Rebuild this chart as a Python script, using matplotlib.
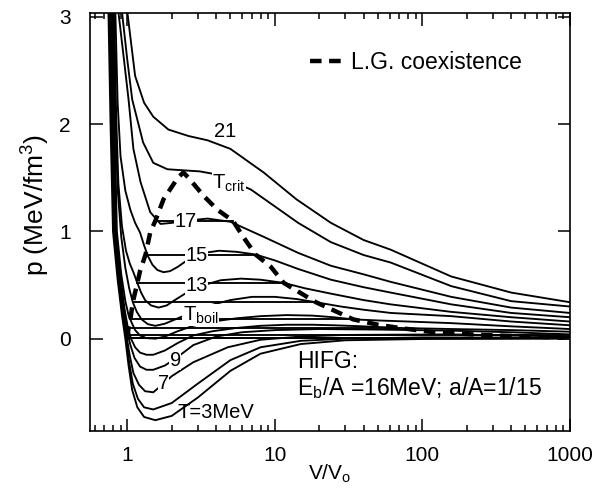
import matplotlib
matplotlib.use("Agg")
import matplotlib.pyplot as plt
from matplotlib.ticker import FixedLocator, FixedFormatter, NullFormatter

plt.rcParams['font.family'] = ['Liberation Sans', 'DejaVu Sans']
plt.rcParams['mathtext.fontset'] = 'custom'
plt.rcParams['mathtext.rm'] = 'Liberation Sans'
plt.rcParams['mathtext.it'] = 'Liberation Sans'

# isotherms: V/V0 and p (MeV/fm^3)
v_t21 = [1.0, 1.13, 1.3, 1.5, 1.9, 2.6, 3.5, 5.0, 8.4, 14, 24, 40, 61, 157, 400, 1000]
p_t21 = [3.05, 2.45, 2.2, 2.07, 1.95, 1.89, 1.85, 1.77, 1.55, 1.3, 1.08, 0.92, 0.83, 0.58, 0.43, 0.34]

v_tcrit = [0.92, 1.0, 1.08, 1.28, 1.5, 1.87, 2.4, 3.1, 4.1, 6.9, 14.4, 24, 40, 61, 157, 400, 1000]
p_tcrit = [3.05, 2.6, 2.23, 1.83, 1.64, 1.58, 1.57, 1.56, 1.53, 1.39, 1.08, 0.9, 0.78, 0.71, 0.49, 0.35, 0.30]

v_t17 = [0.87, 0.95, 1.02, 1.1, 1.23, 1.43, 1.68, 2.0, 2.5, 3.5, 5.0, 8.4, 14.4, 24, 40, 61, 157, 400, 1000]
p_t17 = [3.05, 2.6, 2.23, 1.77, 1.46, 1.18, 1.07, 1.08, 1.1, 1.12, 1.09, 0.95, 0.8, 0.68, 0.6, 0.53, 0.39, 0.29, 0.24]

v_t15 = [0.83, 0.86, 0.9, 0.97, 1.05, 1.13, 1.22, 1.3, 1.38, 1.48, 1.6, 1.76, 1.95, 2.2, 2.6, 3.3, 4.2, 5.5, 7.4, 10, 14.4, 24, 40, 61, 157, 400, 1000]
p_t15 = [3.05, 2.2, 1.7, 1.38, 1.2, 1.08, 0.99, 0.87, 0.77, 0.69, 0.64, 0.62, 0.63, 0.67, 0.74, 0.8, 0.82, 0.81, 0.785, 0.73, 0.65, 0.55, 0.48, 0.43, 0.32, 0.24, 0.2]

v_t13 = [0.815, 0.84, 0.87, 0.92, 0.98, 1.04, 1.1, 1.17, 1.24, 1.32, 1.45, 1.63, 1.85, 2.1, 2.6, 3.3, 4.3, 5.9, 8, 11.5, 16, 24, 40, 61, 157, 400, 1000]
p_t13 = [3.05, 2.1, 1.45, 1.05, 0.82, 0.7, 0.62, 0.52, 0.43, 0.36, 0.31, 0.29, 0.31, 0.36, 0.44, 0.5, 0.545, 0.56, 0.55, 0.52, 0.47, 0.42, 0.36, 0.32, 0.25, 0.2, 0.16]

v_t12 = [0.805, 0.83, 0.86, 0.91, 0.97, 1.03, 1.09, 1.16, 1.25, 1.38, 1.55, 1.8, 2.2, 2.8, 3.6, 5, 7, 10, 14, 19, 28, 40, 61, 157, 400, 1000]
p_t12 = [3.05, 2.1, 1.4, 0.95, 0.66, 0.47, 0.34, 0.25, 0.18, 0.135, 0.12, 0.14, 0.19, 0.25, 0.31, 0.36, 0.39, 0.39, 0.37, 0.34, 0.3, 0.27, 0.24, 0.21, 0.16, 0.125]

v_tboil = [0.795, 0.82, 0.85, 0.91, 0.97, 1.02, 1.07, 1.13, 1.22, 1.35, 1.55, 1.8, 2.2, 2.8, 3.8, 5.5, 8, 12, 18, 25, 34, 50, 80, 157, 400, 1000]
p_tboil = [3.05, 2.0, 1.0, 0.6, 0.35, 0.22, 0.15, 0.08, 0.03, 0.005, 0.0, 0.02, 0.07, 0.12, 0.16, 0.19, 0.21, 0.22, 0.215, 0.2, 0.18, 0.17, 0.16, 0.145, 0.115, 0.09]

v_t10 = [0.785, 0.81, 0.84, 0.90, 0.96, 1.01, 1.06, 1.13, 1.22, 1.35, 1.5, 1.8, 2.2, 2.8, 3.8, 5.5, 8, 12, 18, 25, 40, 70, 157, 400, 1000]
p_t10 = [3.05, 2.0, 1.0, 0.57, 0.27, 0.1, 0.0, -0.08, -0.13, -0.15, -0.15, -0.11, -0.04, 0.03, 0.07, 0.1, 0.12, 0.13, 0.13, 0.125, 0.115, 0.1, 0.09, 0.08, 0.065]

v_t9 = [0.775, 0.80, 0.83, 0.89, 0.95, 1.0, 1.05, 1.12, 1.22, 1.35, 1.5, 1.8, 2.1, 2.8, 4.0, 6.0, 10, 20, 50, 157, 400, 1000]
p_t9 = [3.05, 2.0, 1.0, 0.55, 0.24, 0.06, -0.06, -0.18, -0.26, -0.29, -0.29, -0.25, -0.19, -0.06, 0.02, 0.06, 0.08, 0.09, 0.085, 0.075, 0.06, 0.04]

v_t7 = [0.765, 0.79, 0.82, 0.88, 0.94, 0.99, 1.04, 1.1, 1.2, 1.32, 1.5, 1.76, 2.0, 2.8, 4.8, 8, 15, 30, 157, 400, 1000]
p_t7 = [3.05, 2.0, 1.0, 0.55, 0.22, 0.02, -0.16, -0.32, -0.43, -0.49, -0.5, -0.42, -0.35, -0.22, -0.08, -0.01, 0.02, 0.035, 0.04, 0.03, 0.02]

v_t5 = [0.755, 0.78, 0.81, 0.87, 0.93, 0.98, 1.03, 1.09, 1.18, 1.3, 1.5, 2.0, 3.0, 5.0, 8.0, 15, 30, 100, 1000]
p_t5 = [3.05, 2.0, 1.0, 0.55, 0.22, 0.0, -0.22, -0.42, -0.56, -0.64, -0.66, -0.6, -0.42, -0.2, -0.08, -0.02, 0.0, 0.012, 0.008]

v_t3 = [0.745, 0.77, 0.80, 0.86, 0.92, 0.97, 1.02, 1.08, 1.17, 1.3, 1.55, 2.0, 3.0, 5.0, 8.0, 15, 30, 100, 1000]
p_t3 = [3.05, 2.0, 1.0, 0.55, 0.22, 0.0, -0.25, -0.48, -0.64, -0.73, -0.76, -0.72, -0.55, -0.3, -0.14, -0.05, -0.015, -0.003, 0.0]

isotherms = [(v_t21, p_t21), (v_tcrit, p_tcrit), (v_t17, p_t17), (v_t15, p_t15),
             (v_t13, p_t13), (v_t12, p_t12), (v_tboil, p_tboil), (v_t10, p_t10),
             (v_t9, p_t9), (v_t7, p_t7), (v_t5, p_t5), (v_t3, p_t3)]

# Maxwell tie lines: pressure, liquid and gas volume
tie_p = [1.1, 0.785, 0.52, 0.34, 0.18, 0.10, 0.035, 0.01, 0.004]
tie_vl = [1.55, 1.33, 1.17, 1.09, 1.05, 1.01, 1.0, 0.99, 0.98]
tie_vg = [5.2, 7.4, 11.5, 19, 34, 70, 1000, 1000, 1000]

# liquid-gas coexistence boundary
coex_v = [1.0, 1.02, 1.05, 1.09, 1.17, 1.22, 1.33, 1.43, 1.55, 1.76, 2.2, 2.4, 2.6, 3.3, 4.1, 5.2, 6.1, 7.4, 9.4, 11.5, 19, 34, 50, 70, 120, 250, 900]
coex_p = [0.01, 0.1, 0.18, 0.34, 0.52, 0.63, 0.785, 0.99, 1.1, 1.3, 1.5, 1.55, 1.5, 1.33, 1.2, 1.1, 0.95, 0.785, 0.67, 0.52, 0.34, 0.18, 0.13, 0.1, 0.06, 0.035, 0.01]

fig = plt.figure(figsize=(5.93, 4.88), dpi=100)
ax = fig.add_axes([0.152, 0.117, 0.809, 0.857])

for v, p in isotherms:
    ax.plot(v, p, color='black', lw=1.35, zorder=2)
for pp, vl, vg in zip(tie_p, tie_vl, tie_vg):
    ax.plot([vl, vg], [pp, pp], color='black', lw=1.35, zorder=2)
ax.plot(coex_v, coex_p, color='black', lw=3.2, ls=(0, (2.6, 1.7)), zorder=3,
        label='L.G. coexistence')

# inline isotherm labels
fs = 14.5
wb = dict(facecolor='white', edgecolor='none', pad=0.3)
ax.text(4.6, 1.93, '21', fontsize=fs, ha='center', va='center', zorder=4)
ax.text(3.75, 1.45, r'T$_{\mathregular{crit}}$', fontsize=fs, ha='left', va='center', bbox=wb, zorder=4)
ax.text(2.48, 1.09, '17', fontsize=fs, ha='center', va='center', bbox=wb, zorder=4)
ax.text(2.95, 0.78, '15', fontsize=fs, ha='center', va='center', bbox=wb, zorder=4)
ax.text(2.95, 0.5, '13', fontsize=fs, ha='center', va='center', bbox=wb, zorder=4)
ax.text(2.38, 0.22, r'T$_{\mathregular{boil}}$', fontsize=fs, ha='left', va='center', bbox=wb, zorder=4)
ax.text(2.12, -0.2, '9', fontsize=fs, ha='center', va='center', bbox=wb, zorder=4)
ax.text(1.76, -0.42, '7', fontsize=fs, ha='center', va='center', bbox=wb, zorder=4)
ax.text(2.2, -0.69, 'T=3MeV', fontsize=fs, ha='left', va='center', zorder=4)

ax.text(0.431, 0.165, 'HIFG:', transform=ax.transAxes, fontsize=16.5, ha='left', va='center')
ax.text(0.431, 0.103, r'E$_{\mathregular{b}}$/A =16MeV; a/A=1/15', transform=ax.transAxes,
        fontsize=16.5, ha='left', va='center')

ax.legend(loc='center left', bbox_to_anchor=(0.458, 0.88), frameon=False, fontsize=16.5,
          handlelength=1.5, handletextpad=0.3, borderpad=0, borderaxespad=0)

ax.set_xscale('log')
ax.set_xlim(0.56, 1000)
ax.set_ylim(-0.86, 3.04)

ax.xaxis.set_major_locator(FixedLocator([1, 10, 100, 1000]))
ax.xaxis.set_major_formatter(FixedFormatter(['1', '10', '100', '1000']))
minors = [m * 10.0 ** e for e in range(-1, 3) for m in range(2, 10)]
ax.xaxis.set_minor_locator(FixedLocator(minors))
ax.xaxis.set_minor_formatter(NullFormatter())
ax.set_yticks([0, 1, 2, 3])
ax.tick_params(which='both', direction='in', top=True, right=True, labelsize=15, width=1.1)
ax.tick_params(axis='x', which='major', length=9, pad=11)
ax.tick_params(axis='y', which='major', length=9, pad=14)
ax.tick_params(which='minor', length=4.5)
for s in ax.spines.values():
    s.set_linewidth(1.2)

ax.set_xlabel(r'V/V$_{\mathregular{o}}$', fontsize=15, labelpad=-2)
ax.set_ylabel(r'p (MeV/fm$^{\mathregular{3}}$)', fontsize=19)
ax.yaxis.set_label_coords(-0.08, 0.54)

fig.savefig('out.png', dpi=100)
